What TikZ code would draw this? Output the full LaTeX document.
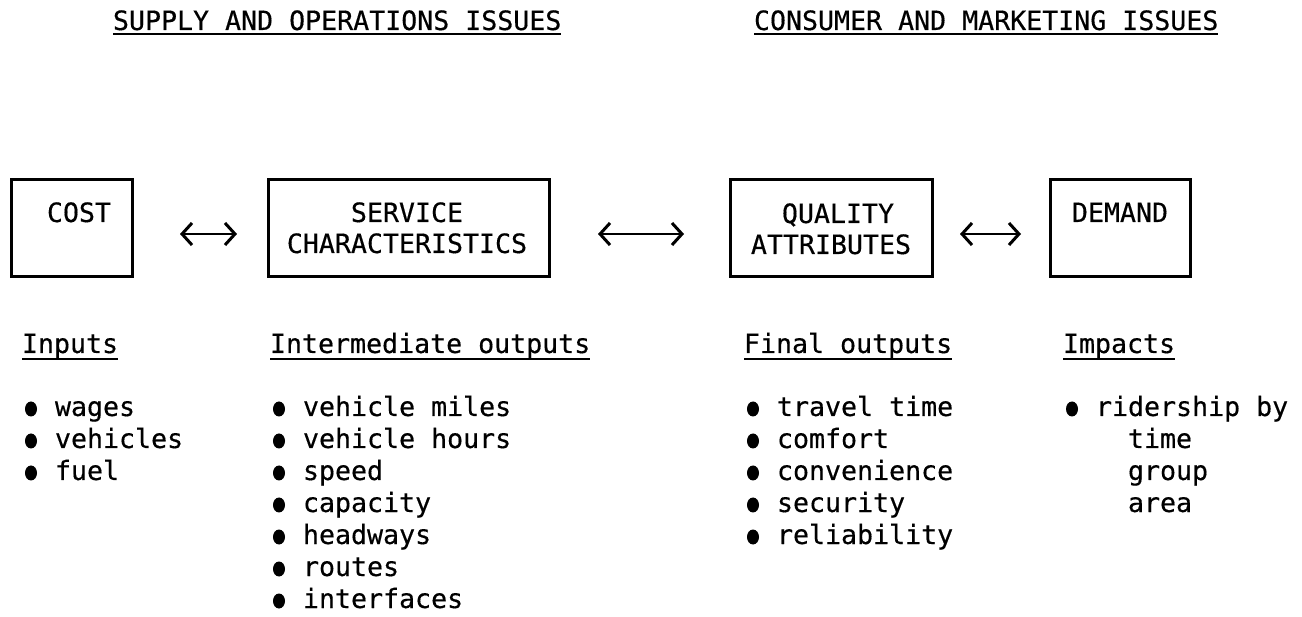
\documentclass[tikz,border=0pt]{standalone}
\usepackage{fontspec}
\newfontfamily\twfont[BoldFont={DejaVu Sans Mono}, BoldFeatures={FakeBold=0.4}]{DejaVu Sans Mono}
\usetikzlibrary{arrows.meta,shapes.geometric}
\begin{document}
\begin{tikzpicture}[x=1pt,y=-1pt,
  txt/.style={inner sep=0pt, outer sep=0pt, anchor=base west, font=\twfont\bfseries\fontsize{26.6}{32}\selectfont},
  ctxt/.style={inner sep=0pt, outer sep=0pt, anchor=base, font=\twfont\bfseries\fontsize{26.6}{32}\selectfont},
  box/.style={draw, line width=3pt, inner sep=0pt, outer sep=0pt, minimum height=97pt},
  dbl/.style={line width=2.2pt, {Straight Barb[length=10pt,width=22pt,line width=3pt]}-{Straight Barb[length=10pt,width=22pt,line width=3pt]}},
  ul/.style={line width=2.2pt},
  bul/.style={ellipse, fill=black, inner sep=0pt, minimum width=12pt, minimum height=15pt}]
\useasboundingbox[fill=white] (0,0) rectangle (1302,617);

% section headings
\node[txt] (h1) at (113,30) {SUPPLY AND OPERATIONS ISSUES};
\node[txt] (h2) at (754,30) {CONSUMER AND MARKETING ISSUES};
\draw[ul] ([yshift=-4pt]h1.base west) -- ([yshift=-4pt]h1.base east);
\draw[ul] ([yshift=-4pt]h2.base west) -- ([yshift=-4pt]h2.base east);

% boxes
\node[box, minimum width=121pt] (cost) at (71.5,228.5) {};
\node[box, minimum width=281pt] (serv) at (408.5,228.5) {};
\node[box, minimum width=202pt] (qual) at (831,228.5) {};
\node[box, minimum width=140pt] (dem) at (1120,228.5) {};

\node[ctxt] (tcost) at (79,222) {COST};
\node[ctxt] (tserv1) at (407,222) {SERVICE};
\node[ctxt] (tserv2) at (407,253) {CHARACTERISTICS};
\node[ctxt] (tqual1) at (838,223) {QUALITY};
\node[ctxt] (tqual2) at (831,254) {ATTRIBUTES};
\node[ctxt] (tdem) at (1120,222) {DEMAND};

% connectors
\coordinate (ay) at (0,234);
\draw[dbl, shorten <=48pt, shorten >=31pt] (cost.east |- ay) -- (serv.west |- ay);
\draw[dbl, shorten <=49pt, shorten >=46pt] (serv.east |- ay) -- (qual.west |- ay);
\draw[dbl, shorten <=28pt, shorten >=29pt] (qual.east |- ay) -- (dem.west |- ay);

% column headers
\node[txt] (c1) at (22,353) {Inputs};
\node[txt] (c2) at (270,353) {Intermediate outputs};
\node[txt] (c3) at (744,353) {Final outputs};
\node[txt] (c4) at (1063,353) {Impacts};
\foreach \c in {c1,c2,c3,c4}
  \draw[ul] ([yshift=-6pt]\c.base west) -- ([yshift=-6pt]\c.base east);

% lists
\foreach \t [count=\i from 0] in {wages,vehicles,fuel} {
  \node[txt] (ia\i) at (55,416+32*\i) {\t};
  \node[bul] (ba\i) at (31,409+32*\i) {};
}
\foreach \t [count=\i from 0] in {vehicle miles,vehicle hours,speed,capacity,headways,routes,interfaces} {
  \node[txt] (ib\i) at (303,416+32*\i) {\t};
  \node[bul] (bb\i) at (279,409+32*\i) {};
}
\foreach \t [count=\i from 0] in {travel time,comfort,convenience,security,reliability} {
  \node[txt] (ic\i) at (777,416+32*\i) {\t};
  \node[bul] (bc\i) at (753,409+32*\i) {};
}
\node[txt] (id0) at (1096,416) {ridership by};
\node[bul] (bd0) at (1072,409) {};
\node[txt] (id1) at (1128,448) {time};
\node[txt] (id2) at (1128,480) {group};
\node[txt] (id3) at (1128,512) {area};
\end{tikzpicture}
\end{document}
